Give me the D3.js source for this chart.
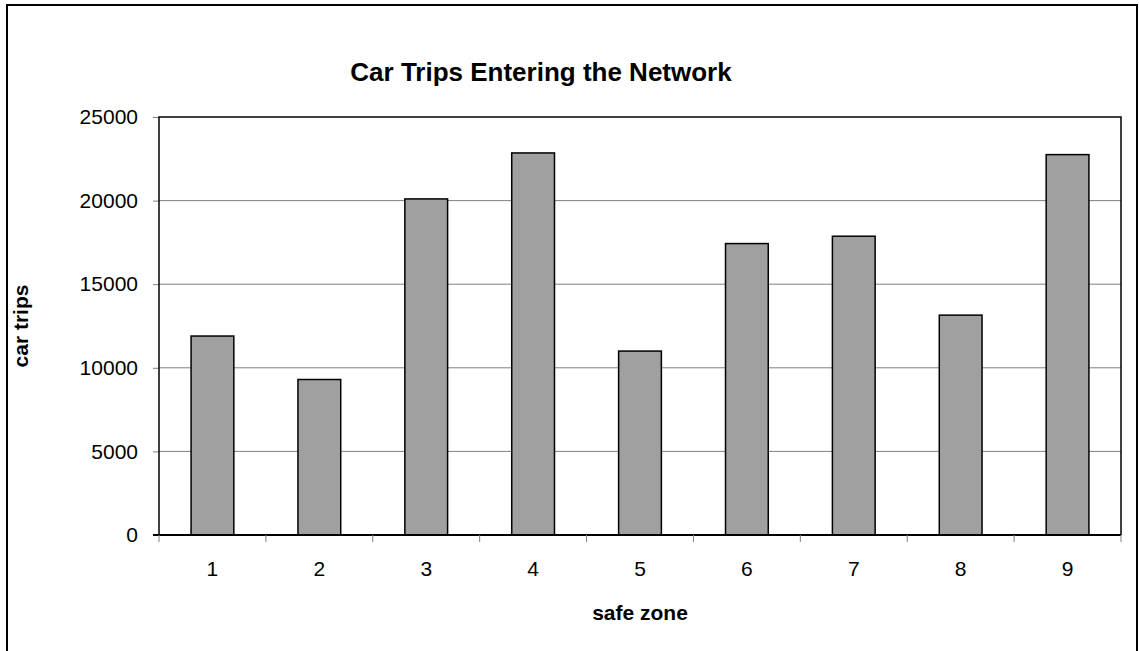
<!DOCTYPE html>
<meta charset="utf-8">
<script src="https://d3js.org/d3.v7.min.js"></script>
<style>
  body { margin: 0; background: #fff; }
  text { font-family: "Liberation Sans", Arial, sans-serif; fill: #000; }
</style>
<div id="page"></div>
<script>
  // Data
  var zones = ["1", "2", "3", "4", "5", "6", "7", "8", "9"];
  var trips = [11900, 9300, 20100, 22850, 11000, 17430, 17870, 13150, 22750];
  var yTicks = [0, 5000, 10000, 15000, 20000, 25000];

  var W = 1139, H = 651;
  var margin = { top: 117, right: 18, bottom: 116, left: 159 },
    width = 1121 - margin.left,
    height = 535 - margin.top;

  var root = d3.select("#page").append("svg")
    .attr("width", W)
    .attr("height", H);

  // outer chart border
  root.append("rect")
    .attr("x", 7).attr("y", 5)
    .attr("width", 1130).attr("height", 660)
    .attr("fill", "none")
    .attr("stroke", "#000")
    .attr("stroke-width", 2);

  root.append("text")
    .attr("x", 541).attr("y", 81)
    .attr("text-anchor", "middle")
    .attr("font-size", "26px")
    .attr("font-weight", "bold")
    .text("Car Trips Entering the Network");

  var svg = root.append("g")
    .attr("transform", "translate(" + margin.left + "," + margin.top + ")");

  var x = d3.scaleBand()
    .domain(zones)
    .range([0, width])
    .paddingInner(0.6)
    .paddingOuter(0.3);

  // band edges for ticks (one category slot each)
  var slot = width / zones.length;

  var y = d3.scaleLinear()
    .domain([0, 25000])
    .range([height, 0]);

  // gridlines
  svg.append("g")
    .selectAll("line")
    .data(yTicks.slice(1, -1))
    .enter().append("line")
    .attr("x1", 0).attr("x2", width)
    .attr("y1", function (d) { return y(d); })
    .attr("y2", function (d) { return y(d); })
    .attr("stroke", "#808080")
    .attr("stroke-width", 1);

  // y axis
  var yAxis = svg.append("g")
    .call(d3.axisLeft(y).tickValues(yTicks).tickSize(6).tickPadding(15).tickFormat(d3.format("d")));
  yAxis.select(".domain").remove();
  yAxis.selectAll("line").attr("stroke", "#808080");
  yAxis.selectAll("text")
    .attr("font-size", "21px")
    .style("font-family", "Liberation Sans, Arial, sans-serif");

  // bars
  svg.selectAll(".bar")
    .data(trips)
    .enter().append("rect")
    .attr("class", "bar")
    .attr("x", function (d, i) { return x(zones[i]); })
    .attr("width", x.bandwidth())
    .attr("y", function (d) { return y(d); })
    .attr("height", function (d) { return height - y(d); })
    .attr("fill", "#a0a0a0")
    .attr("stroke", "#000")
    .attr("stroke-width", 1.5);

  // plot frame
  svg.append("path")
    .attr("d", "M0," + height + "V0H" + width + "V" + height)
    .attr("fill", "none")
    .attr("stroke", "#000")
    .attr("stroke-width", 1.5);

  // x axis line and ticks between categories
  svg.append("line")
    .attr("x1", -6).attr("x2", width)
    .attr("y1", height).attr("y2", height)
    .attr("stroke", "#000").attr("stroke-width", 2);

  svg.append("g")
    .selectAll("line")
    .data(d3.range(zones.length + 1))
    .enter().append("line")
    .attr("x1", function (i) { return i * slot; })
    .attr("x2", function (i) { return i * slot; })
    .attr("y1", height).attr("y2", height + 7)
    .attr("stroke", "#808080");

  svg.append("g")
    .selectAll("text")
    .data(zones)
    .enter().append("text")
    .attr("x", function (d) { return x(d) + x.bandwidth() / 2; })
    .attr("y", height + 41)
    .attr("text-anchor", "middle")
    .attr("font-size", "21px")
    .text(function (d) { return d; });

  // axis titles
  root.append("text")
    .attr("x", 640).attr("y", 620)
    .attr("text-anchor", "middle")
    .attr("font-size", "21px")
    .attr("font-weight", "bold")
    .text("safe zone");

  root.append("text")
    .attr("transform", "translate(28,326)rotate(-90)")
    .attr("text-anchor", "middle")
    .attr("font-size", "21px")
    .attr("font-weight", "bold")
    .text("car trips");
</script>
